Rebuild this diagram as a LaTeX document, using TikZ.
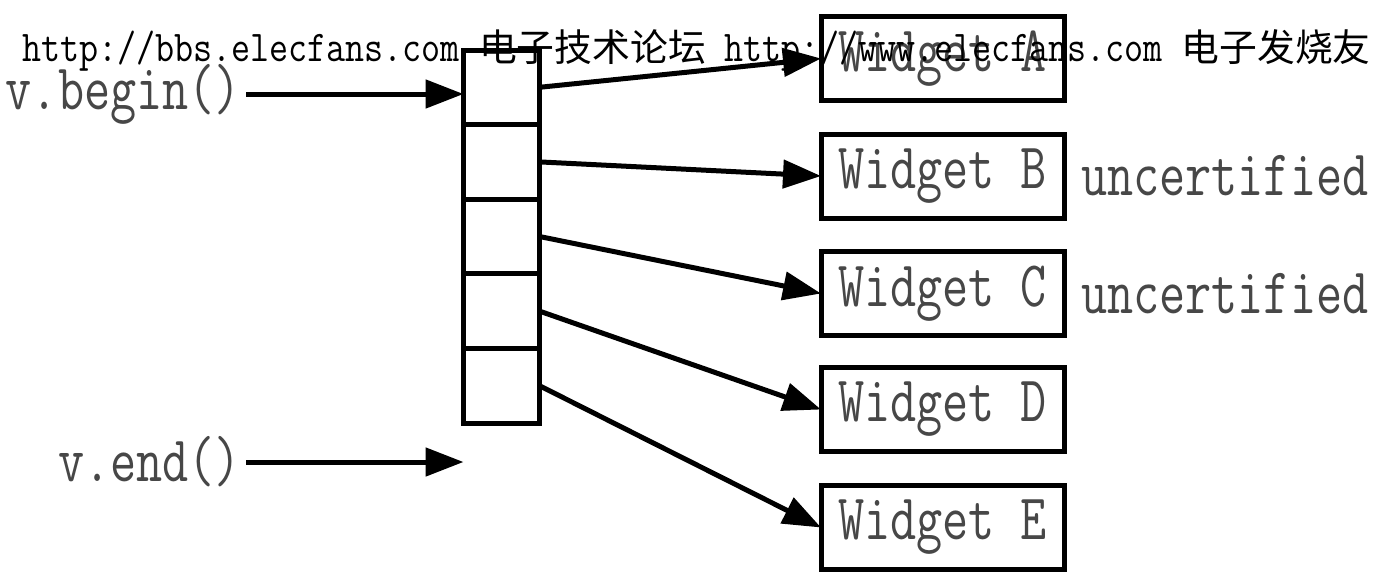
\documentclass[tikz,border=0pt]{standalone}
\usepackage{fontspec}
\usetikzlibrary{arrows.meta}
\newfontfamily\wfont[FakeStretch=0.78]{Latin Modern Mono}
\newfontfamily\mfont[FakeStretch=0.84]{Latin Modern Mono}
\newfontfamily\cjk{Noto Sans CJK SC}
\newcommand{\wsize}{\wfont\fontsize{65}{65}\selectfont}
\newcommand{\cjksize}{\cjk\fontsize{37.8}{38}\selectfont}
\begin{document}
\begin{tikzpicture}[x=1pt,y=-1pt,
  cell/.style={draw, line width=5pt, minimum width=76pt, minimum height=74.6pt, inner sep=0pt, outer sep=0pt},
  widget/.style={draw, line width=5pt, minimum width=243pt, minimum height=84pt, inner sep=0pt, outer sep=0pt, font=\wsize, text=black!72},
  lbl/.style={inner ysep=0pt, inner xsep=5pt, font=\wsize, text=black!72},
  ptr/.style={line width=5pt, -{Triangle[length=38pt,width=28pt]}}]
\useasboundingbox (0,0) rectangle (1382,571);
% vector cells
\node[cell] (c1) at (501.5,87.3) {};
\node[cell] (c2) at (501.5,161.9) {};
\node[cell] (c3) at (501.5,236.5) {};
\node[cell] (c4) at (501.5,311.1) {};
\node[cell] (c5) at (501.5,385.7) {};
% widgets
\node[widget] (wA) at (942.5,58.5) {Widget A};
\node[widget] (wB) at (942.5,176) {Widget B};
\node[widget] (wC) at (942.5,293.5) {Widget C};
\node[widget] (wD) at (942.5,409.5) {Widget D};
\node[widget] (wE) at (942.5,527.5) {Widget E};
% side labels
\node[lbl, anchor=west] (uB) at (1076,176) {uncertified};
\node[lbl, anchor=west] (uC) at (1076,293.5) {uncertified};
\node[lbl, anchor=east] (vb) at (246,94) {v.begin()};
\node[lbl, anchor=east] (ve) at (246,462) {v.end()};
\coordinate (btip) at (vb.east -| c1.west);
\coordinate (etip) at (ve.east -| c1.west);
% pointers
\draw[ptr] (vb.east) -- (btip);
\draw[ptr] (ve.east) -- (etip);
\draw[ptr] (c1.east) -- (wA.west);
\draw[ptr] (c2.east) -- (wB.west);
\draw[ptr] (c3.east) -- (wC.west);
\draw[ptr] (c4.east) -- (wD.west);
\draw[ptr] (c5.east) -- (wE.west);
% watermark
\node[inner sep=0pt, anchor=base west] (wm) at (22,61) {\mfont\fontsize{44}{44}\selectfont http://bbs.elecfans.com {\cjksize 电子技术论坛} http://www.elecfans.com {\cjksize 电子发烧友}};
\end{tikzpicture}
\end{document}
